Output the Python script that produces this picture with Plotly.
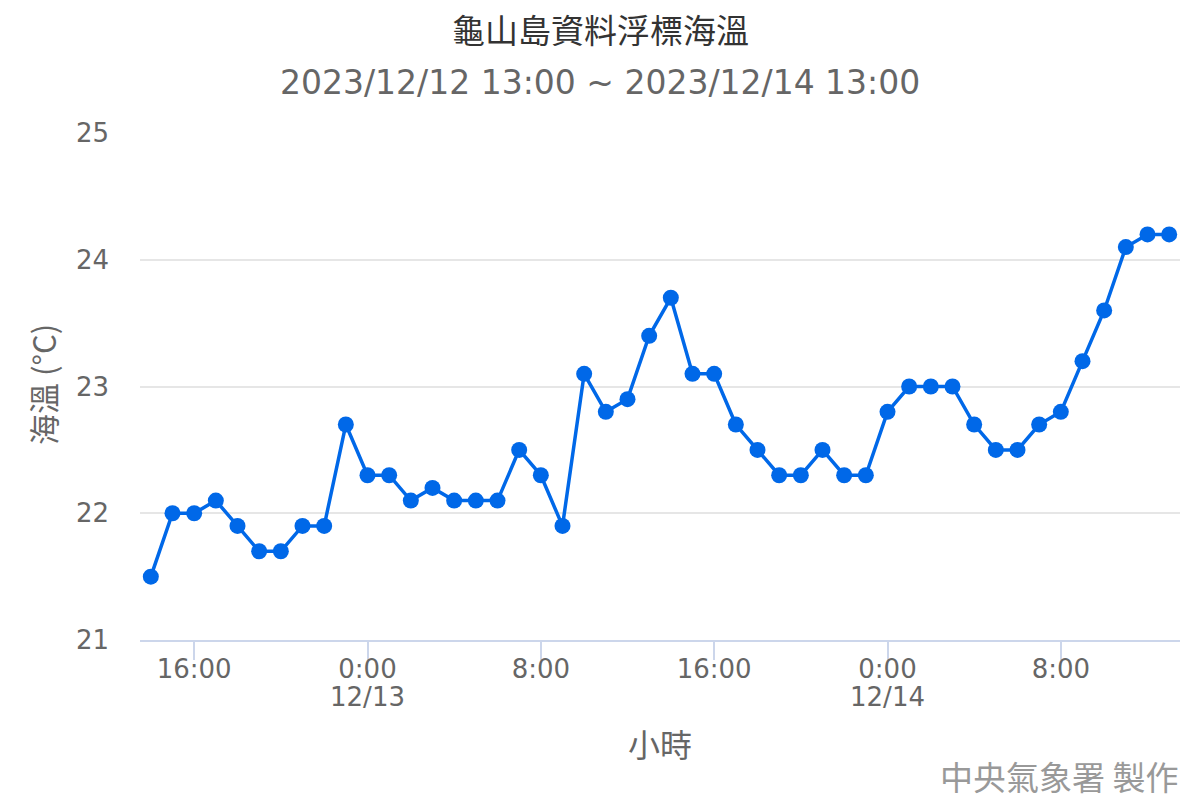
import pandas as pd
import plotly.graph_objects as go

# ---- data ----
start_time = "2023-12-12 14:00"
n_hours = 48
sea_temp = [
    21.5, 22.0, 22.0, 22.1, 21.9, 21.7, 21.7, 21.9, 21.9, 22.7,
    22.3, 22.3, 22.1, 22.2, 22.1, 22.1, 22.1, 22.5, 22.3, 21.9,
    23.1, 22.8, 22.9, 23.4, 23.7, 23.1, 23.1, 22.7, 22.5, 22.3,
    22.3, 22.5, 22.3, 22.3, 22.8, 23.0, 23.0, 23.0, 22.7, 22.5,
    22.5, 22.7, 22.8, 23.2, 23.6, 24.1, 24.2, 24.2,
]
times = pd.date_range(start_time, periods=n_hours, freq="h")
hour_tick_vals = ["2023-12-12 16:00", "2023-12-13 00:00", "2023-12-13 08:00",
                  "2023-12-13 16:00", "2023-12-14 00:00", "2023-12-14 08:00"]
hour_tick_text = ["16:00", "0:00", "8:00", "16:00", "0:00", "8:00"]
date_tick_vals = ["2023-12-13 00:00", "2023-12-14 00:00"]
date_tick_text = ["12/13", "12/14"]
x_range = ["2023-12-12 13:30", "2023-12-14 13:30"]
y_ticks = [21, 22, 23, 24, 25]

title = "龜山島資料浮標海溫"
subtitle = "2023/12/12 13:00 ~ 2023/12/14 13:00"
y_title = "海溫 (°C)"
x_title = "小時"
credit = "中央氣象署 製作"

# ---- layout geometry ----
W, H = 1200, 800
L, R, T, B = 140, 20, 133, 160
PW, PH = W - L - R, H - T - B


def px(x):
    return (x - L) / PW


def py(y):
    return (H - B - y) / PH


CJK = "Noto Sans CJK TC"
LAT = "DejaVu Sans, Noto Sans CJK TC"
LINE = "#0068E8"
TICKFONT = dict(family=LAT, size=26, color="#666666")

fig = go.Figure()
fig.add_trace(go.Scatter(
    x=times, y=sea_temp, mode="lines+markers",
    line=dict(color=LINE, width=3.5),
    marker=dict(color=LINE, size=16),
    showlegend=False,
))
# invisible trace to activate the date-label axis
fig.add_trace(go.Scatter(
    x=[times[0]], y=[sea_temp[0]], xaxis="x2", mode="markers",
    marker=dict(opacity=0), showlegend=False, hoverinfo="skip",
))

fig.update_layout(
    width=W, height=H,
    margin=dict(l=L, r=R, t=T, b=B),
    paper_bgcolor="white", plot_bgcolor="white",
    xaxis=dict(
        type="date", range=x_range,
        tickvals=hour_tick_vals, ticktext=hour_tick_text,
        ticks="outside", ticklen=18, tickwidth=2, tickcolor="#ccd6eb",
        showline=True, linecolor="#ccd6eb", linewidth=2,
        showgrid=False, zeroline=False,
        ticklabelstandoff=-13,
        tickfont=TICKFONT,
    ),
    xaxis2=dict(
        type="date", range=x_range, overlaying="x", side="bottom", anchor="y",
        tickvals=date_tick_vals, ticktext=date_tick_text,
        ticks="", showline=False, showgrid=False, zeroline=False,
        ticklabelstandoff=39,
        tickfont=TICKFONT,
    ),
    yaxis=dict(
        range=[21, 25], tickvals=y_ticks,
        showgrid=True, gridcolor="#e6e6e6", gridwidth=2,
        zeroline=False, showline=False,
        ticks="", ticklabelstandoff=30,
        tickfont=TICKFONT,
    ),
    annotations=[
        dict(text=title, x=px(600), y=py(29), xref="paper", yref="paper",
             showarrow=False, xanchor="center", yanchor="middle",
             font=dict(family=CJK, size=33, color="#333333")),
        dict(text=subtitle, x=px(600), y=py(83), xref="paper", yref="paper",
             showarrow=False, xanchor="center", yanchor="middle",
             font=dict(family=LAT, size=33, color="#666666")),
        dict(text=y_title, x=px(42), y=py(385), xref="paper", yref="paper",
             showarrow=False, xanchor="center", yanchor="middle", textangle=-90,
             font=dict(family=CJK, size=31, color="#666666")),
        dict(text=x_title, x=px(660), y=py(743), xref="paper", yref="paper",
             showarrow=False, xanchor="center", yanchor="middle",
             font=dict(family=CJK, size=32, color="#666666")),
        dict(text=credit, x=px(1180), y=py(776), xref="paper", yref="paper",
             showarrow=False, xanchor="right", yanchor="middle",
             font=dict(family=CJK, size=33, color="#999999")),
    ],
)

fig.write_html("out.html", config={"displayModeBar": False},
               post_script="document.body.style.margin='0';")
